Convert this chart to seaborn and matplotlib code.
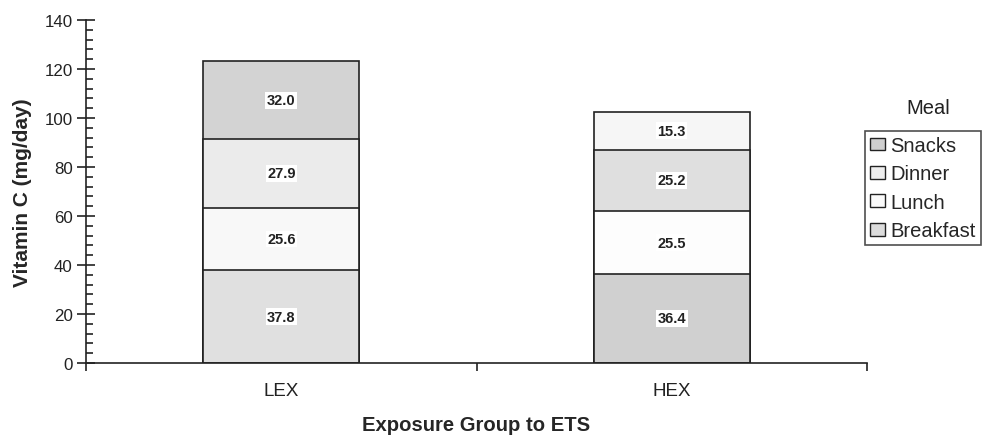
import matplotlib
matplotlib.use("Agg")
import matplotlib.pyplot as plt
import seaborn as sns
import pandas as pd
import numpy as np
from matplotlib.patches import Patch
from matplotlib.ticker import MultipleLocator

groups = ["LEX", "HEX"]
meals = ["Breakfast", "Lunch", "Dinner", "Snacks"]
breakfast = [37.8, 36.4]
lunch = [25.6, 25.5]
dinner = [27.9, 25.2]
snacks = [32.0, 15.3]
values = {"Breakfast": breakfast, "Lunch": lunch, "Dinner": dinner, "Snacks": snacks}

colors = {
    "Breakfast": ["#e0e0e0", "#d0d0d0"],
    "Lunch": ["#f8f8f8", "#fdfdfd"],
    "Dinner": ["#ebebeb", "#dfdfdf"],
    "Snacks": ["#d3d3d3", "#f6f6f6"],
}
legend_colors = {"Snacks": "#cfcfcf", "Dinner": "#eeeeee", "Lunch": "#fafafa", "Breakfast": "#dcdcdc"}

sns.set_style("white")
plt.rcParams["font.family"] = ["Liberation Sans", "DejaVu Sans"]

fig = plt.figure(figsize=(9.83, 4.39), dpi=100)
ax = fig.add_axes([86 / 983, 1 - 364 / 439, (867 - 86) / 983, (364 - 21) / 439])

rows = []
for g_i, g in enumerate(groups):
    cum = 0
    for m in meals:
        v = values[m][g_i]
        rows.append({"group": g, "meal": m, "value": v, "bottom": cum, "top": cum + v})
        cum += v
df = pd.DataFrame(rows)

for m in reversed(meals):
    sub = df[df["meal"] == m]
    sns.barplot(data=sub, x="group", y="top", hue="group", order=groups, hue_order=groups,
                palette=dict(zip(groups, colors[m])), width=0.4, edgecolor="#222222",
                linewidth=1.2, legend=False, ax=ax, saturation=1)

for _, r in df.iterrows():
    xi = groups.index(r["group"])
    ax.text(xi, r["bottom"] + r["value"] / 2, f"{r['value']:.1f}", ha="center", va="center",
            fontsize=10.5, fontweight="bold", color="#222222",
            bbox=dict(facecolor="white", edgecolor="none", pad=1.0))

ax.set_xlim(-0.5, 1.5)
ax.set_ylim(0, 140)
ax.yaxis.set_major_locator(MultipleLocator(20))
ax.yaxis.set_minor_locator(MultipleLocator(4))
ax.tick_params(axis="y", which="major", left=True, direction="inout", length=13, width=1.2,
               labelsize=12.2, colors="#222222", pad=3)
ax.tick_params(axis="y", which="minor", left=True, direction="in", length=5, width=1.2, colors="#222222")
ax.set_xticks([-0.5, 0.5, 1.5])
ax.set_xticklabels(["", "", ""])
ax.set_xticks([0, 1], minor=True)
ax.set_xticklabels(groups, minor=True)
ax.tick_params(axis="x", which="major", bottom=True, direction="out", length=6, width=1.2, colors="#222222")
ax.tick_params(axis="x", which="minor", bottom=True, length=0, labelsize=13.5, pad=14, colors="#222222")

for s in ["top", "right"]:
    ax.spines[s].set_visible(False)
for s in ["left", "bottom"]:
    ax.spines[s].set_color("#222222")
    ax.spines[s].set_linewidth(1.2)

ax.set_ylabel("Vitamin C (mg/day)", fontsize=15, fontweight="bold", labelpad=9)
ax.set_xlabel("Exposure Group to ETS", fontsize=14.6, fontweight="bold")
ax.xaxis.set_label_coords(0.5, -(431 - 364) / 343)
ax.xaxis.label.set_va("baseline")

handles = [Patch(facecolor=legend_colors[m], edgecolor="#222222", label=m) for m in reversed(meals)]
fig.text(928 / 983, 1 - 108 / 439, "Meal", ha="center", va="center", fontsize=14.5, color="#222222")
leg = fig.legend(handles=handles, loc="upper left", bbox_to_anchor=(865 / 983, 1 - 132 / 439),
                 frameon=True, fontsize=14.5, handlelength=0.75, handleheight=0.6,
                 handletextpad=0.25, labelspacing=0.47, borderpad=0.25, borderaxespad=0,
                 fancybox=False)
leg.get_frame().set_edgecolor("#222222")
leg.get_frame().set_linewidth(1.2)

fig.savefig("out.png", dpi=100)
